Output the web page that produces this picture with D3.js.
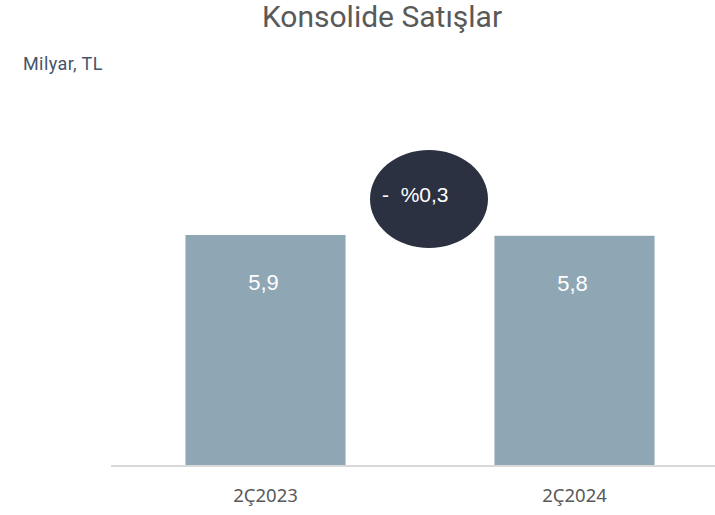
<!DOCTYPE html>
<html>
<head>
<meta charset="utf-8">
<script src="https://cdn.jsdelivr.net/npm/d3@7"></script>
<style>
  body { margin: 0; background: #fff; }
  svg { display: block; }
</style>
</head>
<body>
<div id="chart"></div>
<script>
// Chart data
const categories = ['2Ç2023', '2Ç2024'];
const sales = [5.86, 5.84];
const changeLabel = '-  %0,3';

const W = 715, H = 515;
const baseY = 466;

const svg = d3.select('#chart').append('svg')
  .attr('width', W)
  .attr('height', H);

// Title
svg.append('text')
  .attr('x', 382)
  .attr('y', 27)
  .attr('text-anchor', 'middle')
  .style('font-family', 'Roboto, sans-serif')
  .style('font-size', '30px')
  .style('fill', '#595959')
  .text('Konsolide Satışlar');

// Unit label
svg.append('text')
  .attr('x', 23)
  .attr('y', 70)
  .style('font-family', 'Roboto, sans-serif')
  .style('font-size', '18px')
  .style('letter-spacing', '0.4px')
  .style('fill', '#44546a')
  .text('Milyar, TL');

const x = d3.scaleBand()
  .domain(categories)
  .range([111, 729])
  .paddingInner(0.482)
  .paddingOuter(0.241);

const y = d3.scaleLinear()
  .domain([0, 7])
  .range([baseY, baseY - 231 * 7 / 5.86]);

// Bars
svg.selectAll('.bar')
  .data(sales)
  .enter()
  .append('rect')
  .attr('class', 'bar')
  .attr('x', (d, i) => x(categories[i]))
  .attr('y', d => y(d))
  .attr('width', x.bandwidth())
  .attr('height', d => y(0) - y(d))
  .attr('fill', '#8fa6b5');

// Value labels inside bars
const fmt = d3.format('.1f');
svg.selectAll('.val')
  .data(sales)
  .enter()
  .append('text')
  .attr('class', 'val')
  .attr('x', (d, i) => x(categories[i]) + x.bandwidth() / 2 - 2)
  .attr('y', d => y(d) + 55)
  .attr('text-anchor', 'middle')
  .style('font-family', '"Liberation Sans", Arial, sans-serif')
  .style('font-size', '22px')
  .style('fill', '#ffffff')
  .text(d => fmt(d).replace('.', ','));

// Baseline
svg.append('line')
  .attr('x1', 111)
  .attr('x2', W)
  .attr('y1', baseY)
  .attr('y2', baseY)
  .attr('stroke', '#d9d9d9')
  .attr('stroke-width', 2);

// Category labels
svg.selectAll('.cat')
  .data(categories)
  .enter()
  .append('text')
  .attr('class', 'cat')
  .attr('x', d => x(d) + x.bandwidth() / 2)
  .attr('y', 502)
  .attr('text-anchor', 'middle')
  .style('font-family', '"Noto Sans", sans-serif')
  .style('font-size', '18.5px')
  .style('fill', '#595959')
  .text(d => d);

// Change bubble
const cx = (x(categories[0]) + x.bandwidth() + x(categories[1])) / 2 + 9;
svg.append('ellipse')
  .attr('cx', cx)
  .attr('cy', 199)
  .attr('rx', 59)
  .attr('ry', 49)
  .attr('fill', '#2b3140');

svg.append('text')
  .attr('x', 382)
  .attr('y', 202)
  .style('font-family', '"Liberation Sans", Arial, sans-serif')
  .style('font-size', '21px')
  .style('fill', '#ffffff')
  .style('white-space', 'pre')
  .attr('xml:space', 'preserve')
  .text(changeLabel);
</script>
</body>
</html>
